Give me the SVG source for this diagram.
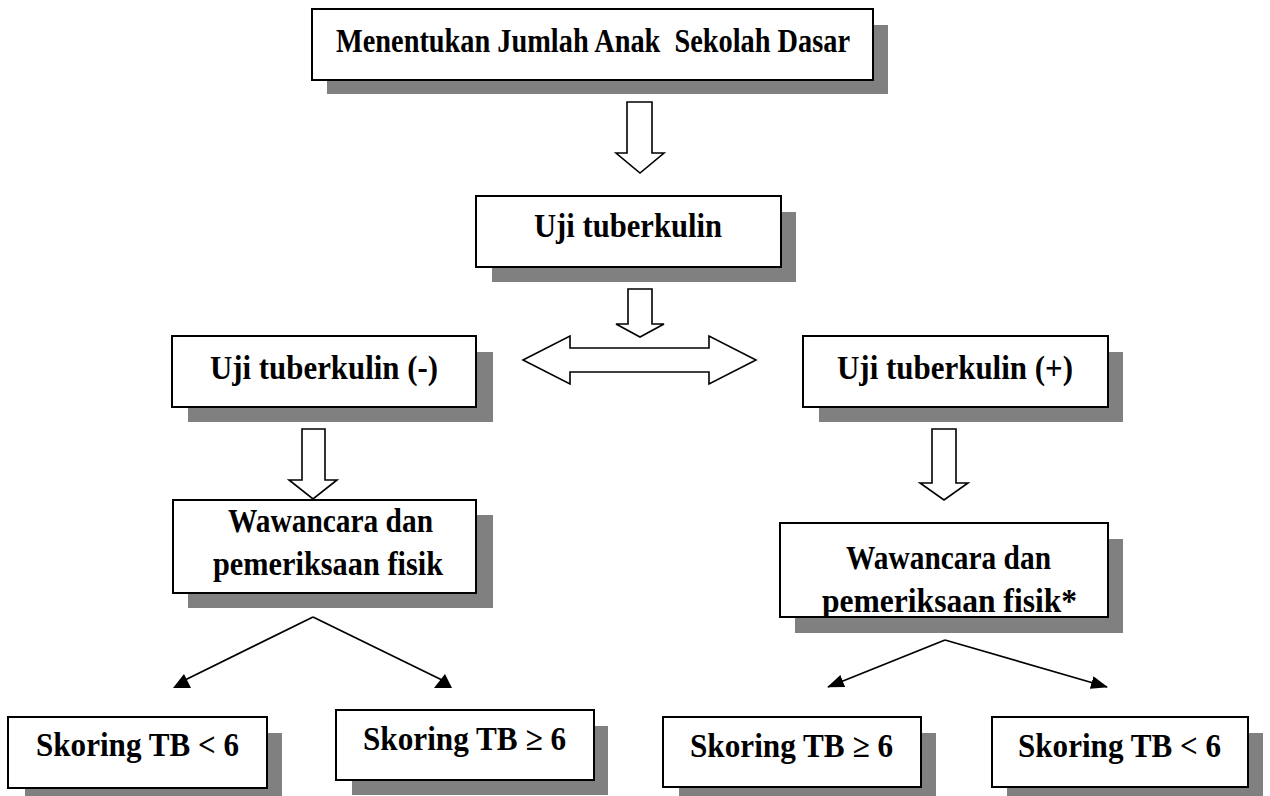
<svg xmlns="http://www.w3.org/2000/svg" width="1270" height="796" viewBox="0 0 1270 796">
<style>
.bg{fill:#fff}
.shadow{fill:#808080}
.box{fill:#fff;stroke:#000;stroke-width:2}
.lbl{font-family:"Liberation Serif","Times New Roman",serif;font-weight:bold;font-size:34px;fill:#000}
.sm{font-size:33px}
.blk{fill:#fff;stroke:#000;stroke-width:1.6;stroke-linejoin:miter}
.ln{fill:none;stroke:#000;stroke-width:1.8}
</style>
<defs>
<marker id="tri" markerUnits="userSpaceOnUse" markerWidth="18" markerHeight="14" viewBox="0 0 18 14" refX="10" refY="7" orient="0">
<path d="M0,14 L18,14 L11,0 Z" fill="#000"/>
</marker>
<marker id="arr" markerUnits="userSpaceOnUse" markerWidth="17" markerHeight="13" viewBox="0 0 17 13" refX="16" refY="6.5" orient="auto">
<path d="M0,0 L17,6.5 L0,13 Z" fill="#000"/>
</marker>
<clipPath id="clipR"><rect x="780" y="523" width="328" height="94"/></clipPath>
</defs>
<rect class="bg" x="0" y="0" width="1270" height="796"/>

<g id="connectors">
<polygon class="blk" points="627,102 652,102 652,153 664,153 640,173 616,153 627,153"/>
<polygon class="blk" points="628,289 652,289 652,324 664,324 640,337 616,324 628,324"/>
<polygon class="blk" points="523,360 570,336 570,348 709,348 709,336 756,360 709,384 709,372 570,372 570,384"/>
<polygon class="blk" points="302,429 325,429 325,480 337,480 313,499 289,480 302,480"/>
<polygon class="blk" points="932,429 956,429 956,483 968,483 944,500 920,483 932,483"/>
<line class="ln" x1="313" y1="617" x2="183" y2="681" marker-end="url(#tri)"/>
<line class="ln" x1="313" y1="617" x2="444" y2="681" marker-end="url(#tri)"/>
<line class="ln" x1="945" y1="640" x2="828" y2="687" marker-end="url(#arr)"/>
<line class="ln" x1="945" y1="640" x2="1107" y2="687" marker-end="url(#arr)"/>
</g>

<g id="node-jumlah">
<rect class="shadow" x="327" y="25" width="561" height="69"/>
<rect class="box" x="312" y="9" width="561" height="71"/>
<text class="lbl sm" x="336" y="52" textLength="514" lengthAdjust="spacingAndGlyphs">Menentukan Jumlah Anak&#160; Sekolah Dasar</text>
</g>

<g id="node-uji">
<rect class="shadow" x="492" y="212" width="304" height="70"/>
<rect class="box" x="476" y="196" width="305" height="71"/>
<text class="lbl" x="534" y="237" textLength="188" lengthAdjust="spacingAndGlyphs">Uji tuberkulin</text>
</g>

<g id="node-uji-neg">
<rect class="shadow" x="188" y="352" width="305" height="70"/>
<rect class="box" x="172" y="336" width="304" height="71"/>
<text class="lbl" x="210" y="379" textLength="228" lengthAdjust="spacingAndGlyphs">Uji tuberkulin (-)</text>
</g>

<g id="node-uji-pos">
<rect class="shadow" x="819" y="352" width="304" height="70"/>
<rect class="box" x="803" y="336" width="305" height="71"/>
<text class="lbl" x="837" y="379" textLength="236" lengthAdjust="spacingAndGlyphs">Uji tuberkulin (+)</text>
</g>

<g id="node-wawancara-neg">
<rect class="shadow" x="188" y="515" width="305" height="93"/>
<rect class="box" x="173" y="500" width="303" height="93"/>
<text class="lbl" x="228" y="532" textLength="205" lengthAdjust="spacingAndGlyphs">Wawancara dan</text>
<text class="lbl" x="213" y="575" textLength="230" lengthAdjust="spacingAndGlyphs">pemeriksaan fisik</text>
</g>

<g id="node-wawancara-pos">
<rect class="shadow" x="795" y="539" width="328" height="94"/>
<rect class="box" x="780" y="523" width="328" height="94"/>
<g clip-path="url(#clipR)">
<text class="lbl" x="846" y="569" textLength="205" lengthAdjust="spacingAndGlyphs">Wawancara dan</text>
<text class="lbl" x="822" y="612" textLength="255" lengthAdjust="spacingAndGlyphs">pemeriksaan fisik*</text>
</g>
<rect x="780" y="523" width="328" height="94" fill="none" stroke="#000" stroke-width="2"/>
</g>

<g id="node-skor-neg-lt">
<rect class="shadow" x="25" y="733" width="257" height="70"/>
<rect class="box" x="8" y="717" width="259" height="71"/>
<text class="lbl sm" x="36" y="756" textLength="203" lengthAdjust="spacingAndGlyphs">Skoring TB &lt; 6</text>
</g>

<g id="node-skor-neg-ge">
<rect class="shadow" x="352" y="726" width="256" height="69"/>
<rect class="box" x="336" y="710" width="258" height="70"/>
<text class="lbl sm" x="363" y="750" textLength="203" lengthAdjust="spacingAndGlyphs">Skoring TB ≥ 6</text>
</g>

<g id="node-skor-pos-ge">
<rect class="shadow" x="679" y="733" width="257" height="70"/>
<rect class="box" x="663" y="717" width="258" height="70"/>
<text class="lbl sm" x="690" y="757" textLength="203" lengthAdjust="spacingAndGlyphs">Skoring TB ≥ 6</text>
</g>

<g id="node-skor-pos-lt">
<rect class="shadow" x="1007" y="733" width="256" height="70"/>
<rect class="box" x="992" y="717" width="256" height="70"/>
<text class="lbl sm" x="1018" y="757" textLength="203" lengthAdjust="spacingAndGlyphs">Skoring TB &lt; 6</text>
</g>
</svg>
